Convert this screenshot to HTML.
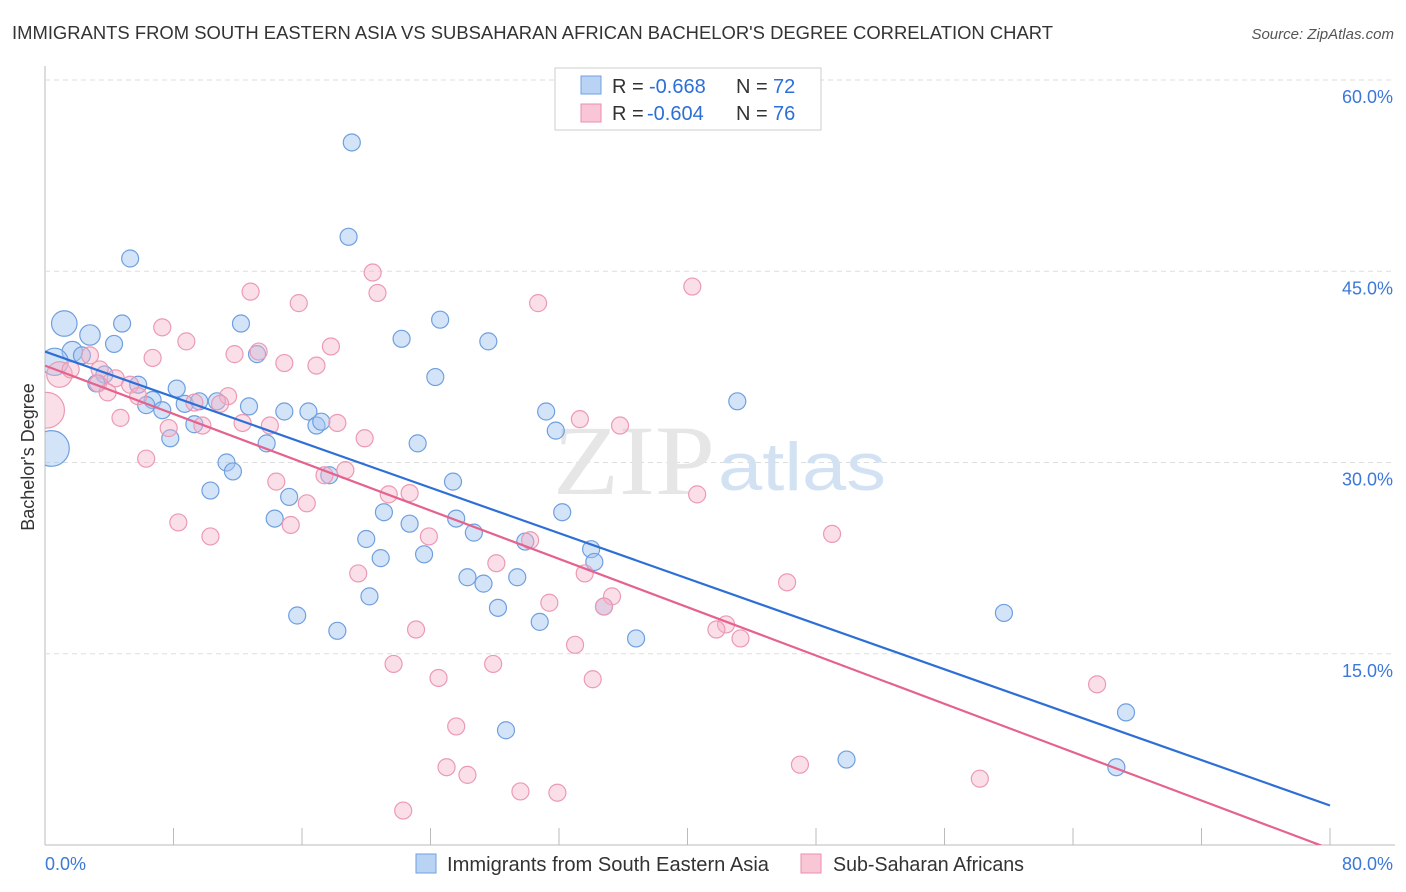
<!DOCTYPE html>
<html><head><meta charset="utf-8"><style>
body{margin:0;background:#fff;font-family:"Liberation Sans",sans-serif}
#c{position:absolute;left:0;top:0}
</style></head><body>
<svg id="c" width="1406" height="892" xmlns="http://www.w3.org/2000/svg">
<text x="12" y="39" font-size="18" fill="#333" textLength="1041" lengthAdjust="spacingAndGlyphs">IMMIGRANTS FROM SOUTH EASTERN ASIA VS SUBSAHARAN AFRICAN BACHELOR'S DEGREE CORRELATION CHART</text>
<text x="1394" y="39" font-size="15" fill="#555" text-anchor="end" font-style="italic">Source: ZipAtlas.com</text>
<text x="34" y="457" font-size="18" fill="#333" text-anchor="middle" transform="rotate(-90 34 457)">Bachelor's Degree</text>
<g id="grid"></g>
<text x="553" y="494" font-size="100" fill="#e6e6e6" font-family="Liberation Serif,serif" textLength="162" lengthAdjust="spacingAndGlyphs">ZIP</text>
<text x="718" y="490" font-size="68" fill="#d3e2f3" textLength="168" lengthAdjust="spacingAndGlyphs">atlas</text>
<defs><clipPath id="pc"><rect x="45" y="60" width="1350" height="785"/></clipPath></defs>
<g id="pts" clip-path="url(#pc)"></g>
<g id="lines" clip-path="url(#pc)"></g>
<g>
<rect x="555" y="68" width="266" height="62" fill="#fff" stroke="#ccc"/>
<rect x="581" y="76" width="20" height="18" fill="#b9d3f5" stroke="#6f9fe0"/>
<rect x="581" y="104" width="20" height="18" fill="#f8c6d5" stroke="#eb8fac"/>
<text x="612" y="93" font-size="20" fill="#333">R =</text>
<text x="649" y="93" font-size="20" fill="#2d6fd6">-0.668</text>
<text x="736" y="93" font-size="20" fill="#333">N =</text>
<text x="773" y="93" font-size="20" fill="#2d6fd6">72</text>
<text x="612" y="120" font-size="20" fill="#333">R =</text>
<text x="647" y="120" font-size="20" fill="#2d6fd6">-0.604</text>
<text x="736" y="120" font-size="20" fill="#333">N =</text>
<text x="773" y="120" font-size="20" fill="#2d6fd6">76</text>
</g>
<g>
<rect x="416" y="854" width="20" height="19" fill="#b9d3f5" stroke="#6f9fe0"/>
<text x="447" y="871" font-size="20" fill="#333" textLength="322" lengthAdjust="spacingAndGlyphs">Immigrants from South Eastern Asia</text>
<rect x="801" y="854" width="20" height="19" fill="#f8c6d5" stroke="#eb8fac"/>
<text x="833" y="871" font-size="20" fill="#333" textLength="191" lengthAdjust="spacingAndGlyphs">Sub-Saharan Africans</text>
</g>
</svg>
<script>
const yTicks=[15,30,45,60];
const xTickLabels=["0.0%","80.0%"];
const blueX=[19.1,18.9,5.3,1.2,2.8,4.8,4.3,12.2,24.6,22.2,27.6,1.7,2.3,13.2,0.6,3.7,3.2,5.8,8.2,24.3,6.7,6.3,8.7,9.6,10.7,12.7,7.3,14.9,16.4,16.9,17.2,43.1,31.2,31.8,9.3,7.8,13.8,23.2,0.4,11.3,11.7,25.4,17.7,10.3,15.2,14.3,21.1,25.6,22.7,32.2,26.7,29.9,20.0,34.0,34.2,20.9,23.6,26.3,27.3,29.4,20.2,28.2,15.7,34.8,59.7,30.8,18.2,36.8,67.3,28.7,49.9,66.7];
const blueY=[55.1,47.7,46.0,40.9,40.0,40.9,39.3,40.9,41.2,39.7,39.5,38.7,38.4,38.5,37.9,36.9,36.2,36.1,35.8,36.7,34.9,34.5,34.6,34.8,34.8,34.4,34.1,34.0,34.0,32.9,33.2,34.8,34.0,32.5,33.0,31.9,31.5,31.5,31.1,30.0,29.3,28.5,29.0,27.8,27.3,25.6,26.1,25.6,25.2,26.1,24.5,23.8,24.0,23.2,22.2,22.5,22.8,21.0,20.5,21.0,19.5,18.6,18.0,18.7,18.2,17.5,16.8,16.2,10.4,9.0,6.7,6.1];
const blueSize=[1,1,1,1.5,1.2,1,1,1,1,1,1,1.2,1,1,1.6,1,1,1,1,1,1,1,1,1,1,1,1,1,1,1,1,1,1,1,1,1,1,1,2.1,1,1,1,1,1,1,1,1,1,1,1,1,1,1,1,1,1,1,1,1,1,1,1,1,1,1,1,1,1,1,1,1,1];
const pinkX=[20.4,40.3,12.8,20.7,15.8,30.7,7.3,8.8,17.8,11.8,13.3,6.7,2.8,14.9,16.9,0.9,1.6,3.4,4.4,3.3,5.3,3.9,5.8,11.4,9.3,10.9,0.1,4.7,9.8,7.7,12.3,14.0,18.2,33.3,35.8,19.9,6.3,18.7,17.4,14.4,16.3,21.4,22.7,40.6,8.3,15.3,10.3,23.9,30.2,49.0,28.1,19.5,33.6,46.2,35.3,31.4,34.8,42.4,41.8,23.1,43.3,33.0,21.7,27.9,24.5,34.1,65.5,25.6,25.0,26.3,47.0,58.2,29.6,31.9,22.3];
const pinkY=[44.9,43.8,43.4,43.3,42.5,42.5,40.6,39.5,39.1,38.5,38.7,38.2,38.4,37.8,37.6,36.9,37.3,37.3,36.6,36.2,36.1,35.5,35.2,35.2,34.7,34.6,34.1,33.5,32.9,32.7,33.1,32.9,33.1,33.4,32.9,31.9,30.3,29.4,29.0,28.5,26.8,27.5,27.6,27.5,25.3,25.1,24.2,24.2,23.9,24.4,22.1,21.3,21.3,20.6,19.5,19.0,18.7,17.3,16.9,16.9,16.2,15.7,14.2,14.2,13.1,13.0,12.6,9.3,6.1,5.5,6.3,5.2,4.2,4.1,2.7];
const pinkSize=[1,1,1,1,1,1,1,1,1,1,1,1,1,1,1,1.5,1,1,1,1,1,1,1,1,1,1,2.1,1,1,1,1,1,1,1,1,1,1,1,1,1,1,1,1,1,1,1,1,1,1,1,1,1,1,1,1,1,1,1,1,1,1,1,1,1,1,1,1,1,1,1,1,1,1,1,1];
const blueTrend=[38.7,3.1];
const pinkTrend=[37.6,-0.3];
const NS="http://www.w3.org/2000/svg";
const X0=45,X1=1330,Y0=845,Y60=80;
function sx(v){return X0+(X1-X0)*v/80;}
function sy(v){return Y0-(Y0-Y60)*v/60;}
function mk(t,a,p){const e=document.createElementNS(NS,t);for(const k in a)e.setAttribute(k,a[k]);p.appendChild(e);return e;}
const grid=document.getElementById('grid');
mk('line',{x1:45,y1:66,x2:45,y2:845,stroke:'#bbb'},grid);
mk('line',{x1:45,y1:845,x2:1395,y2:845,stroke:'#bbb'},grid);
yTicks.forEach(t=>{
 const g=mk('line',{x1:45,y1:sy(t),x2:1395,y2:sy(t),stroke:'#ddd','stroke-dasharray':'5,4'},grid);
 
 
 const l=mk('text',{x:1393,y:sy(t)+23,'font-size':18,fill:'#3b78d8','text-anchor':'end'},grid);
 l.textContent=t.toFixed(1)+'%';
 
 
});
for(let i=1;i<=10;i++){
 const tk=mk('line',{x1:sx(i*8),y1:828,x2:sx(i*8),y2:845,stroke:'#bbb'},grid);
 
 
}
const xl0=mk('text',{x:45,y:870,'font-size':18,fill:'#3b78d8'},grid);xl0.textContent=xTickLabels[0];


const xl1=mk('text',{x:1393,y:870,'font-size':18,fill:'#3b78d8','text-anchor':'end'},grid);xl1.textContent=xTickLabels[1];


const pts=document.getElementById('pts');
blueX.forEach((x,i)=>{
 const c=mk('circle',{cx:sx(x),cy:sy(blueY[i]),r:8.5*blueSize[i],fill:'rgba(160,196,240,0.45)',stroke:'#6f9fe0','stroke-width':1.2},pts);
 
 
});
pinkX.forEach((x,i)=>{
 const c=mk('circle',{cx:sx(x),cy:sy(pinkY[i]),r:8.5*pinkSize[i],fill:'rgba(246,178,200,0.42)',stroke:'#ec9ab4','stroke-width':1.2},pts);
 
 
});
const ln=document.getElementById('lines');
const bl=mk('line',{x1:sx(0),y1:sy(blueTrend[0]),x2:sx(80),y2:sy(blueTrend[1]),stroke:'#2d6fd6','stroke-width':2.2},ln);


const pl=mk('line',{x1:sx(0),y1:sy(pinkTrend[0]),x2:sx(80),y2:sy(pinkTrend[1]),stroke:'#e5628c','stroke-width':2.2},ln);


</script>
</body></html>
